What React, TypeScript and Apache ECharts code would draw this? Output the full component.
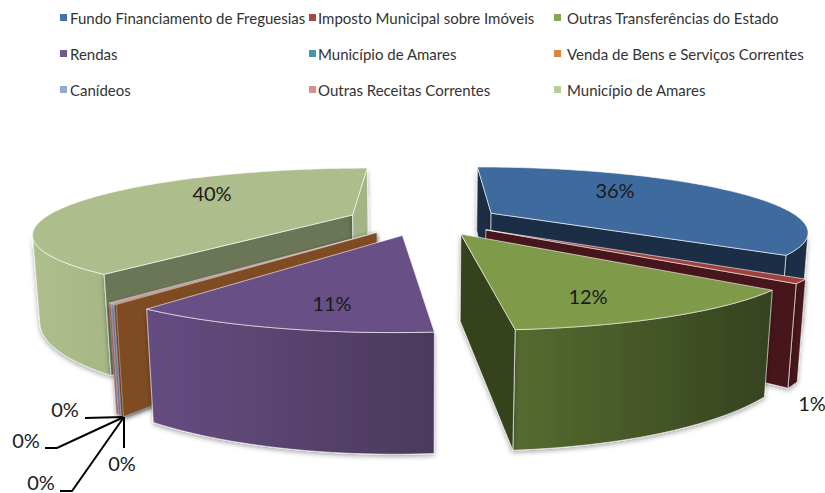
import React, { useEffect, useRef } from "react";
import * as echarts from "echarts";

const categories = [
  "Fundo Financiamento de Freguesias",
  "Imposto Municipal sobre Imóveis",
  "Outras Transferências do Estado",
  "Rendas",
  "Município de Amares",
  "Venda de Bens e Serviços Correntes",
  "Canídeos",
  "Outras Receitas Correntes",
  "Município de Amares",
];
const shares = [35.5, 0.98, 12.12, 11.28, 0.02, 0.12, 0.12, 0.12, 39.74];

const legendColors = ["#4572A7", "#AA4643", "#89A54E", "#71588F", "#4198AF", "#DB843D", "#93A9CF", "#D19392", "#B9CD96"];
const topColors = ["#3F6A9E", "#A0403D", "#7F9A48", "#684F86", "#3D8DA2", "#CC7A38", "#88A0CC", "#D8A3A2", "#ADBD8B"];
const wallFrom = ["#1A2D45", "#47191A", "#566B30", "#654D81", "#1A3D46", "#7F4C22", "#7F9CCB", "#CC7F7E", "#AEBF8D"];
const wallTo = ["#1A2D45", "#47191A", "#35431F", "#4B395C", "#1A3D46", "#7F4C22", "#7F9CCB", "#CC7F7E", "#A6B784"];
const cutStart = ["#1A2D45", "#47191A", "#35431F", "#4B395C", "#1A3D46", "#7F4C22", "#7F9CCB", "#CC7F7E", "#6A7657"];
const cutEnd = ["#1A2D45", "#47191A", "#36431F", "#5C4676", "#1A3D46", "#7F4C22", "#7F9CCB", "#CC7F7E", "#A4B486"];
const paintOrder = [8, 0, 1, 7, 6, 4, 5, 3, 2];

const legendX = [60, 309, 554];
const legendTextGap = [-2, -3, 1];
const legendY = [10, 46, 82];
const labelPos: number[][] = [[615, 190], [812, 403], [588, 296], [332, 303], [65, 409], [122, 463], [26, 440], [41, 482], [212, 193]];
const leaderLines: (number[][] | null)[] = [
  null, null, null, null,
  [[85, 418], [124, 417]],
  [[124, 448], [124, 417]],
  [[45, 448], [57, 448], [124, 417]],
  [[60, 491], [72, 491], [124, 417]],
  null,
];

const CX = 424, CY = 219.7, R = 310, EXPLODE = 0.248, PERSP = 0.263, TILT = 61.4, HEIGHT = 82, CONV = 4730;
const total = shares.reduce((a, b) => a + b, 0);
const before = shares.map((_, i) => shares.slice(0, i).reduce((a, b) => a + b, 0));

type P = { x: number; y: number; bx: number; by: number };
function project(X: number, Z: number): P {
  const s = 1 / (1 - PERSP * Z);
  const x = CX + R * X * s;
  const y = CY + TILT * Z * s;
  const h = HEIGHT * s;
  return { x, y, bx: CX + (x - CX) * (1 - h / CONV), by: y + h };
}
const visibleFace = (p: P, q: P, inner: P) => {
  const ex = q.x - p.x, ey = q.y - p.y;
  return (ex * (inner.y - p.y) - ey * (inner.x - p.x)) * ex < 0;
};
const edge = "rgba(255,255,255,0.75)";
const shadow = { shadowBlur: 5, shadowColor: "rgba(0,0,0,0.35)", shadowOffsetY: 2 };

function renderSlice(i: number) {
  return (_params: any, api: any) => {
    const pct = api.value(0) / total;
    const a0 = (api.value(1) / total) * Math.PI * 2;
    const a1 = a0 + pct * Math.PI * 2;
    const mid = (a0 + a1) / 2;
    const ox = EXPLODE * Math.sin(mid), oz = -EXPLODE * Math.cos(mid);
    const pt = (a: number) => project(ox + Math.sin(a), oz - Math.cos(a));
    const apex = project(ox, oz);
    const n = Math.max(2, Math.ceil((a1 - a0) / (Math.PI / 120)));
    const arc: P[] = [];
    for (let k = 0; k <= n; k++) arc.push(pt(a0 + ((a1 - a0) * k) / n));
    const inner2 = project(ox + 0.5 * Math.sin(mid), oz - 0.5 * Math.cos(mid));
    const children: any[] = [];
    const lw = pct < 0.005 ? 0.25 : 0.8;
    const quad = (p: P, q: P, fill: any) => ({
      type: "polygon",
      shape: { points: [[p.x, p.y], [q.x, q.y], [q.bx, q.by], [p.bx, p.by]] },
      style: { fill, stroke: edge, lineWidth: lw, ...shadow },
    });
    // walls: only the arc segments on the viewer's side of the silhouette
    const wall: P[] = [];
    for (let k = 0; k < n; k++) {
      if (arc[k + 1].x < arc[k].x) {
        if (!wall.length) wall.push(arc[k]);
        wall.push(arc[k + 1]);
      }
    }
    const startVisible = visibleFace(apex, arc[0], inner2);
    const endVisible = visibleFace(apex, arc[n], inner2);
    if (wall.length > 1) {
      const pts = wall.map((p) => [p.x, p.y]).concat(wall.slice().reverse().map((p) => [p.bx, p.by]));
      children.push({
        type: "polygon",
        shape: { points: pts },
        style: {
          fill: new echarts.graphic.LinearGradient(0, 0, 1, 0, [
            { offset: 0, color: wallFrom[i] },
            { offset: 1, color: wallTo[i] },
          ]),
          stroke: edge,
          lineWidth: lw,
          ...shadow,
        },
      });
    }
    if (startVisible) children.push(quad(apex, arc[0], cutStart[i]));
    if (endVisible) children.push(quad(apex, arc[n], cutEnd[i]));
    children.push({
      type: "polygon",
      shape: { points: [[apex.x, apex.y]].concat(arc.map((p) => [p.x, p.y])) },
      style: { fill: topColors[i], stroke: edge, lineWidth: lw },
    });
    const line = leaderLines[i];
    if (line) {
      children.push({
        type: "polyline",
        shape: { points: line },
        style: { fill: "none", stroke: "#000", lineWidth: 2 },
      });
    }
    children.push({
      type: "text",
      x: labelPos[i][0],
      y: labelPos[i][1],
      style: {
        text: Math.round(pct * 100) + "%",
        fill: "#1a1a1a",
        font: "20px Lato",
        align: "center",
        verticalAlign: "middle",
      },
    });
    return { type: "group", children };
  };
}

export default function App() {
  const ref = useRef<HTMLDivElement>(null);
  useEffect(() => {
    const chart = echarts.init(ref.current!, null, { renderer: "svg" });
    chart.setOption({
      animation: false,
      backgroundColor: "#fff",
      legend: categories.map((name, i) => ({
        left: legendX[i % 3],
        top: legendY[Math.floor(i / 3)],
        padding: 0,
        icon: "rect",
        itemWidth: 7,
        itemHeight: 7,
        itemGap: 0,
        selectedMode: false,
        textStyle: { fontFamily: "Lato", fontSize: 15, color: "#333", padding: [0, 0, 0, legendTextGap[i % 3]] },
        data: [{ name, itemStyle: { color: legendColors[i] } }],
      })),
      series: categories.map((name, i) => ({
        type: "custom",
        name,
        coordinateSystem: "none",
        silent: true,
        z: 2 + paintOrder.indexOf(i),
        data: [[shares[i], before[i]]],
        renderItem: renderSlice(i),
      })),
    });
    return () => chart.dispose();
  }, []);
  return <div ref={ref} style={{ position: "absolute", left: 0, top: 0, width: 825, height: 493 }} />;
}
